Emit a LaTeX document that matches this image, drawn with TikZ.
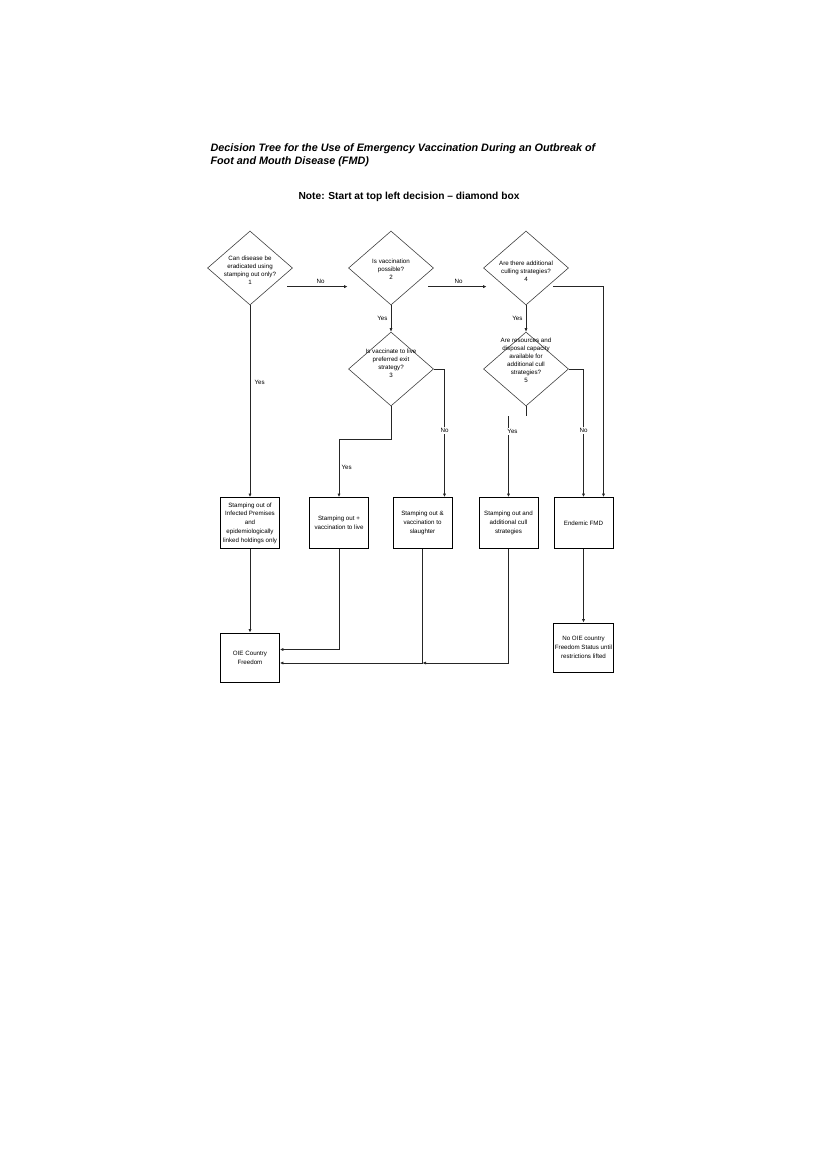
\documentclass[tikz,border=0pt]{standalone}
\usepackage{fontspec}
\setmainfont{Liberation Sans}
\usetikzlibrary{shapes.geometric,arrows.meta}

\begin{document}
\begin{tikzpicture}[x=1pt, y=-1pt,
    decision/.style={diamond, draw=black!75, line width=0.6pt, minimum width=85pt, minimum height=74pt, inner sep=0pt},
    qtext/.style={align=center, font=\fontsize{6.2}{8}\selectfont, inner sep=0pt},
    outcome/.style={rectangle, draw=black, line width=0.9pt, minimum width=59pt, minimum height=51pt, align=center, font=\fontsize{6.2}{8.8}\selectfont, inner sep=1pt},
    lbl/.style={font=\fontsize{6.2}{7}\selectfont, inner sep=1pt},
    link/.style={line width=1pt, draw=black!85},
    arrow/.style={link, -{Latex[length=3.5pt,width=3.2pt]}}
]
\useasboundingbox (0,0) rectangle (826,1169);

% Title
\node[anchor=west, align=left, font=\fontsize{10.8}{12.5}\selectfont\bfseries\itshape] (title) at (207,155) {Decision Tree for the Use of Emergency Vaccination During an Outbreak of\\Foot and Mouth Disease (FMD)};
\node[font=\fontsize{10.2}{12}\selectfont\bfseries] (note) at (409,197) {Note: Start at top left decision -- diamond box};

% Decisions
\node[decision] (q1) at (250,268) {};
\node[decision] (q2) at (391,268) {};
\node[decision] (q4) at (526,268) {};
\node[decision] (q3) at (391,369) {};
\node[decision] (q5) at (526,369) {};

\node[qtext] (q1text) at (250,270) {Can disease be\\eradicated using\\stamping out only?\\1};
\node[qtext] (q2text) at (391,269) {Is vaccination\\possible?\\2};
\node[qtext] (q4text) at (526,271) {Are there additional\\culling strategies?\\4};
\node[qtext] (q3text) at (391,363) {Is vaccinate to live\\preferred exit\\strategy?\\3};
\node[qtext] (q5text) at (526,360) {Are resources and\\disposal capacity\\available for\\additional cull\\strategies?\\5};

% Outcomes
\node[outcome] (s1) at (250,523) {Stamping out of\\Infected Premises\\and\\epidemiologically\\linked holdings only};
\node[outcome] (s2) at (339,523) {Stamping out +\\vaccination to live};
\node[outcome] (s3) at (422.5,523) {Stamping out \&\\vaccination to\\slaughter};
\node[outcome] (s4) at (508.5,523) {Stamping out and\\additional cull\\strategies};
\node[outcome] (s5) at (583.5,523) {Endemic FMD};

\node[outcome, minimum height=49pt] (o1) at (250,657.5) {OIE Country\\Freedom};
\node[outcome, minimum height=49pt] (o2) at (583.5,647.5) {No OIE country\\Freedom Status until\\restrictions lifted};

% Decision branches
\draw[arrow] (q1.south) -- node[lbl, pos=0.4, right=3pt] {Yes} (s1.north);
\draw[arrow, shorten <=16pt, shorten >=22pt] (q1.south east) -- node[lbl, above=2pt] {No} (q2.south west);
\draw[arrow, shorten <=16pt, shorten >=18pt] (q2.south east) -- node[lbl, above=2pt] {No} (q4.south west);
\draw[arrow] (q2.south) -- node[lbl, left=2pt] {Yes} (q3.north);
\draw[arrow] (q4.south) -- node[lbl, left=2pt] {Yes} (q5.north);

\draw[arrow] (q3.east) -| node[lbl, fill=white, pos=0.74] {No} ([xshift=22pt]s3.north);
\draw[arrow] (q3.south) -- ++(0,33) -| node[lbl, pos=0.745, right=1pt] {Yes} (s2.north);

\draw[arrow, shorten <=6pt] (q4.south east) -| ([xshift=20pt]s5.north);
\draw[arrow] (q5.east) -| node[lbl, fill=white, pos=0.74] {No} (s5.north);
\draw[link] (q5.south) -- ++(0,10) coordinate (q5tick);
\draw[arrow] (s4.north |- q5tick) -- node[lbl, fill=white, pos=0.19, xshift=4pt] {Yes} (s4.north);

% To country status
\draw[arrow] (s1.south) -- (o1.north);
\draw[arrow] (s2.south) |- ([yshift=8pt]o1.east);
\path (s3.south |- o1.east) ++(0,5.5) coordinate (jn);
\draw[arrow] (s4.south) |- (jn);
\draw[link] (s3.south) -- (jn);
\draw[arrow] (jn) -- (jn -| o1.east);
\draw[arrow] (s5.south) -- (o2.north);

\end{tikzpicture}
\end{document}
